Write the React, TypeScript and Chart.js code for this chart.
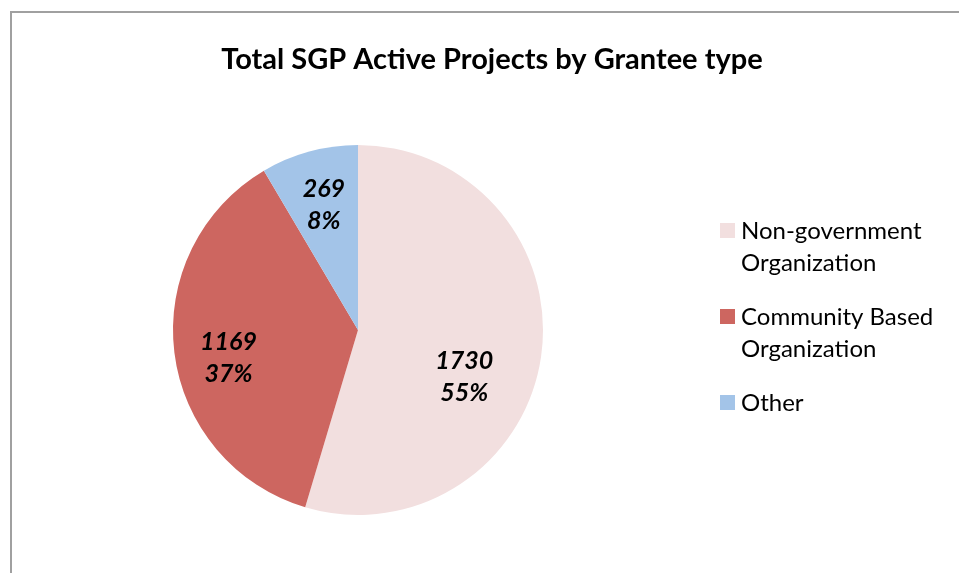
import React, { useEffect, useRef } from "react";
import { Chart, registerables } from "chart.js";

Chart.register(...registerables);

const categories = ["Non-government Organization", "Community Based Organization", "Other"];
const legendLines = [["Non-government", "Organization"], ["Community Based", "Organization"], ["Other"]];
const values = [1730, 1169, 269];
const percentLabels = ["55%", "37%", "8%"];
const colors = ["#F2DFDF", "#CD6660", "#A3C4E8"];
const titleText = "Total SGP Active Projects by Grantee type";

const FONT = "Lato, 'Open Sans', sans-serif";

export default function App() {
  const ref = useRef<HTMLCanvasElement>(null);
  useEffect(() => {
    const canvas = ref.current!;
    const labelOffsets = [
      [-22, 28],
      [-1, 12],
      [0, 0],
    ];
    const customPlugin = {
      id: "custom",
      afterDraw(chart: any) {
        const ctx = chart.ctx as CanvasRenderingContext2D;
        ctx.save();
        // title
        ctx.fillStyle = "#000";
        ctx.font = `bold 29px ${FONT}`;
        ctx.textAlign = "center";
        ctx.textBaseline = "middle";
        ctx.fillText(titleText, 492, 60);
        // data labels
        const meta = chart.getDatasetMeta(0);
        ctx.font = `italic bold 25px ${FONT}`;
        meta.data.forEach((arc: any, i: number) => {
          const p = arc.getProps(["x", "y", "startAngle", "endAngle", "outerRadius"], true);
          const mid = (p.startAngle + p.endAngle) / 2;
          const d = p.outerRadius * 0.7;
          const cx = p.x + Math.cos(mid) * d + labelOffsets[i][0];
          const cy = p.y + Math.sin(mid) * d + labelOffsets[i][1];
          ctx.fillText(String(values[i]), cx, cy - 16);
          ctx.fillText(percentLabels[i], cx, cy + 16);
        });
        // legend
        ctx.font = `24px ${FONT}`;
        ctx.textAlign = "left";
        let y = 231;
        legendLines.forEach((lines, i) => {
          ctx.fillStyle = colors[i];
          ctx.fillRect(720, y - 8, 15, 15);
          ctx.fillStyle = "#000";
          lines.forEach((ln, j) => {
            ctx.fillText(ln, 741, y + j * 32);
          });
          y += lines.length * 32 + 22;
        });
        ctx.restore();
      },
    };
    const chart = new Chart(canvas, {
      type: "pie",
      data: {
        labels: categories,
        datasets: [
          {
            data: values,
            backgroundColor: colors,
            borderWidth: 0,
          },
        ],
      },
      options: {
        responsive: false,
        animation: false,
        layout: { padding: { top: 145, bottom: 58, left: 173, right: 416 } },
        plugins: {
          legend: { display: false },
          title: { display: false },
          tooltip: { enabled: false },
        },
      },
      plugins: [customPlugin],
    });
    return () => chart.destroy();
  }, []);
  return (
    <div style={{ position: "fixed", left: 0, top: 0, width: 959, height: 573, background: "#fff" }}>
      <div
        style={{
          position: "absolute",
          left: 10,
          top: 11,
          width: 959,
          height: 573,
          borderLeft: "2px solid #a0a0a0",
          borderTop: "2px solid #a0a0a0",
        }}
      />
      <canvas ref={ref} width={959} height={573} style={{ position: "absolute", left: 0, top: 0 }} />
    </div>
  );
}
